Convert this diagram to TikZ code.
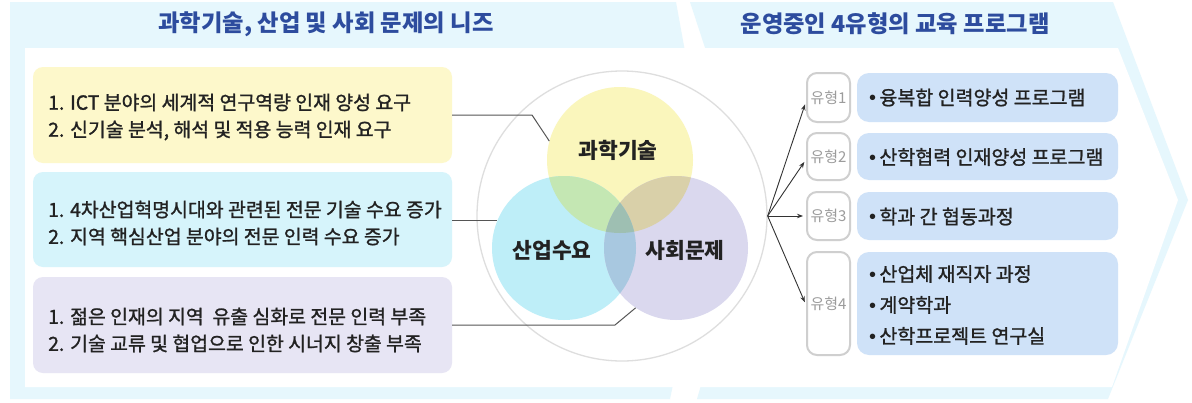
\documentclass[tikz,border=0pt]{standalone}
\usepackage{fontspec}
\setmainfont{Noto Sans CJK KR}
\newfontfamily\krmed[FakeBold=1.2]{Noto Sans CJK KR}
\newfontfamily\bulfont{Liberation Sans}
\usetikzlibrary{arrows.meta}
\definecolor{band}{HTML}{E6F7FD}
\definecolor{titleblue}{HTML}{2D4C9E}
\definecolor{boxy}{HTML}{FDF8CB}
\definecolor{boxc}{HTML}{D6F4FB}
\definecolor{boxl}{HTML}{E7E5F4}
\definecolor{boxb}{HTML}{CFE2F8}
\definecolor{vy}{HTML}{FAF6BC}
\definecolor{vc}{HTML}{BEEEF8}
\definecolor{vl}{HTML}{DAD8EE}
\definecolor{vyc}{HTML}{C4E7B3}
\definecolor{vyl}{HTML}{D9D0A9}
\definecolor{vcl}{HTML}{A8C8E0}
\definecolor{vycl}{HTML}{9EBFB2}
\definecolor{circgray}{HTML}{DEDEDE}
\definecolor{typegray}{HTML}{CFCFCF}
\definecolor{typetext}{HTML}{9C9C9C}
\definecolor{bodytext}{HTML}{222222}
\definecolor{connc}{HTML}{555555}
\newcommand{\bul}{{\bulfont\fontsize{20}{20}\selectfont •}\,}
\tikzset{
  titletext/.style={font=\fontsize{23.3}{26}\selectfont\bfseries, text=titleblue, inner sep=0},
  lbox/.style={rounded corners=10pt, minimum width=419pt, inner sep=0},
  ltext/.style={anchor=west, align=left, inner sep=0, text=bodytext, font=\krmed\fontsize{19.4}{27}\selectfont},
  vcirc/.style={circle, inner sep=0, minimum size=144pt},
  venntext/.style={font=\fontsize{21.5}{24}\selectfont\bfseries, text=bodytext, inner sep=0},
  conn/.style={draw=connc, line width=1pt},
  arr/.style={draw=black!80, line width=0.9pt, -{Stealth[length=6pt,width=4.5pt]}, shorten >=3pt},
  typebox/.style={draw=typegray, line width=2pt, fill=white, rounded corners=10pt, minimum width=43pt, inner sep=0, text=typetext, font=\fontsize{15}{16}\selectfont},
  bbox/.style={fill=boxb, rounded corners=12pt, minimum width=261pt, inner sep=0},
  btext/.style={anchor=west, align=left, inner sep=0, text=bodytext, font=\krmed\fontsize{19.5}{31}\selectfont}
}
\begin{document}
\begin{tikzpicture}[x=1pt,y=-1pt]
\useasboundingbox (0,0) rectangle (1192,402);
\fill[white] (0,0) rectangle (1192,402);
% panels
\fill[band] (10,2) -- (676,2) -- (712,200) -- (670,399) -- (10,399) -- cycle;
\fill[band] (690,2) -- (1113,2) -- (1188,200) -- (1108,399) -- (697,399) -- (755,200) -- cycle;
\fill[white] (25,48) -- (1118,48) -- (1178,200) -- (1112,387) -- (25,387) -- cycle;
% titles
\node[titletext] (ltitle) at (326,24) {과학기술, 산업 및 사회 문제의 니즈};
\node[titletext] (rtitle) at (895,24) {운영중인 4유형의 교육 프로그램};
% left boxes
\node[lbox, fill=boxy, minimum height=96pt] (b1) at (242.5,115) {};
\node[lbox, fill=boxc, minimum height=95pt] (b2) at (242.5,219.5) {};
\node[lbox, fill=boxl, minimum height=96pt] (b3) at (242.5,325) {};
\node[ltext] (b1t) at (48,117) {1. ICT 분야의 세계적 연구역량 인재 양성 요구\\2. 신기술 분석, 해석 및 적용 능력 인재 요구};
\node[ltext] (b2t) at (48,223) {1. 4차산업혁명시대와 관련된 전문 기술 수요 증가\\2. 지역 핵심산업 분야의 전문 인력 수요 증가};
\node[ltext] (b3t) at (48,330) {1. 젊은 인재의 지역\ \ 유출 심화로 전문 인력 부족\\2. 기술 교류 및 협업으로 인한 시너지 창출 부족};
% venn
\node[circle, draw=circgray, line width=1.3pt, minimum size=290pt, inner sep=0] (O) at (622,216) {};
\node[vcirc, fill=vy, minimum size=146pt] (Y) at (620,160) {};
\node[vcirc, fill=vc] (C) at (564,248) {};
\node[vcirc, fill=vl] (L) at (676,248) {};
\begin{scope}
  \clip (Y.center) circle (73pt);
  \fill[vyc] (C.center) circle (72pt);
\end{scope}
\begin{scope}
  \clip (Y.center) circle (73pt);
  \fill[vyl] (L.center) circle (72pt);
\end{scope}
\begin{scope}
  \clip (C.center) circle (72pt);
  \fill[vcl] (L.center) circle (72pt);
\end{scope}
\begin{scope}
  \clip (Y.center) circle (73pt);
  \clip (C.center) circle (72pt);
  \fill[vycl] (L.center) circle (72pt);
\end{scope}
\node[venntext] (Yt) at (618,150) {과학기술};
\node[venntext] (Ct) at (552,250) {산업수요};
\node[venntext] (Lt) at (685,250) {사회문제};
% connectors
\coordinate (k1) at (532,0);
\coordinate (k3) at (615,0);
\draw[conn] (b1.east) -- (b1.east -| k1) -- (Y.165);
\draw[conn] (b2.east |- C.158) -- (C.158);
\draw[conn] (b3.east) -- (b3.east -| k3) -- (L.236);
% type boxes
\node[typebox, minimum height=49pt] (t1) at (828.5,97.5) {유형1};
\node[typebox, minimum height=47pt] (t2) at (828.5,156.5) {유형2};
\node[typebox, minimum height=48pt] (t3) at (828.5,216) {유형3};
\node[typebox, minimum height=103pt] (t4) at (828.5,303.5) {유형4};
% blue boxes
\node[bbox, minimum height=49pt] (p1) at (987.5,97.5) {};
\node[bbox, minimum height=47pt] (p2) at (987.5,156.5) {};
\node[bbox, minimum height=48pt] (p3) at (987.5,216) {};
\node[bbox, minimum height=103pt] (p4) at (987.5,303.5) {};
\node[btext] (p1t) at (869,97.5) {\bul 융복합 인력양성 프로그램};
\node[btext] (p2t) at (869,157) {\bul 산학협력 인재양성 프로그램};
\node[btext] (p3t) at (869,216.5) {\bul 학과 간 협동과정};
\node[btext] (p4t) at (869,305) {\bul 산업체 재직자 과정\\\bul 계약학과\\\bul 산학프로젝트 연구실};
% arrows
\draw[arr] (O.east) -- ([yshift=-4pt]t1.west);
\draw[arr] (O.east) -- ([yshift=-3pt]t2.west);
\draw[arr] (O.east) -- (t3.west);
\draw[arr] (O.east) -- ([yshift=-1.5pt]t4.west);
\end{tikzpicture}
\end{document}
